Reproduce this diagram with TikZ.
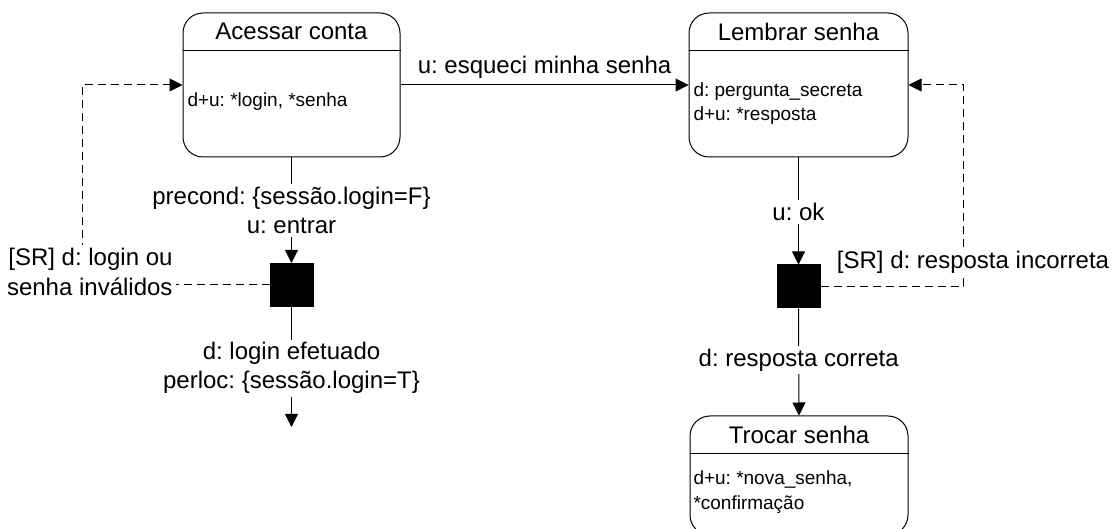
\documentclass[tikz,border=0pt]{standalone}
\usepackage{fontspec}
\setmainfont{Liberation Sans}
\usetikzlibrary{arrows.meta,calc}
\frenchspacing
\begin{document}
\begin{tikzpicture}[x=0.5pt,y=-0.5pt,
  line width=0.5pt,
  >={Triangle[length=6.5pt,width=6.5pt]},
  statebox/.style={draw,rounded corners=10pt,inner sep=0pt},
  titletxt/.style={font=\fontsize{12}{14}\selectfont,inner sep=0pt},
  bodytxt/.style={font=\fontsize{9.5}{12}\selectfont,align=left,inner sep=0pt,anchor=west},
  choice/.style={draw,fill=black,minimum size=21.5pt,inner sep=0pt},
  lbl/.style={font=\fontsize{12}{14.5}\selectfont,fill=white,inner sep=1.5pt,align=center},
  back/.style={dash pattern=on 4pt off 2.5pt},
]
\useasboundingbox (0,0) rectangle (1115,529);

% states
\node[statebox,minimum width=108.5pt,minimum height=72pt] (acessar) at (291.5,85) {};
\draw ($(acessar.north west)+(0,38)$) -- ($(acessar.north east)+(0,38)$);
\node[titletxt] (acessarT) at ($(acessar.north)+(0,19)$) {Acessar conta};
\node[bodytxt] (acessarB) at (187,102) {d+u: *login, *senha};

\node[statebox,minimum width=109.5pt,minimum height=72pt] (lembrar) at (798.5,85) {};
\draw ($(lembrar.north west)+(0,38)$) -- ($(lembrar.north east)+(0,38)$);
\node[titletxt] (lembrarT) at ($(lembrar.north)+(0,19)$) {Lembrar senha};
\node[bodytxt] (lembrarB) at (693,103.5) {d: pergunta\_secreta\\d+u: *resposta};

\node[statebox,minimum width=109pt,minimum height=59.5pt] (trocar) at (799,475.5) {};
\draw ($(trocar.north west)+(0,38)$) -- ($(trocar.north east)+(0,38)$);
\node[titletxt] (trocarT) at ($(trocar.north)+(0,19)$) {Trocar senha};
\node[bodytxt,font=\fontsize{9.5}{12.5}\selectfont] (trocarB) at (693,492.5) {d+u: *nova\_senha,\\*confirmação};

% choice points
\node[choice] (sq1) at (291.5,285) {};
\node[choice] (sq2) at (798.5,286.5) {};
\coordinate (out1) at (291.5,427);

% transitions
\draw[->] (acessar.east) -- node[lbl,fill=none,yshift=9pt] {u: esqueci minha senha} (lembrar.west);
\draw[->] (acessar.south) -- node[lbl] {precond: \{sessão.login=F\}\\u: entrar} (sq1.north);
\draw[->] (sq1.south) -- node[lbl,pos=0.51] {d: login efetuado\\perloc: \{sessão.login=T\}} (out1);
\draw[->] (lembrar.south) -- node[lbl,pos=0.51] {u: ok} (sq2.north);
\draw[->] (sq2.south) -- node[lbl,pos=0.48] {d: resposta correta} (trocar.north);

% failure returns
\draw[back,->] (sq1.west) -- ++(-187.5,0) |- (acessar.west);
\node[lbl,anchor=east,align=right,font=\fontsize{12}{15}\selectfont] (errL) at (176,272) {[SR] d: login ou\\senha inválidos};
\draw[back,->] (sq2.east) -- ++(143,0) |- (lembrar.east);
\node[lbl] (errR) at (973,262) {[SR] d: resposta incorreta};
\end{tikzpicture}
\end{document}
